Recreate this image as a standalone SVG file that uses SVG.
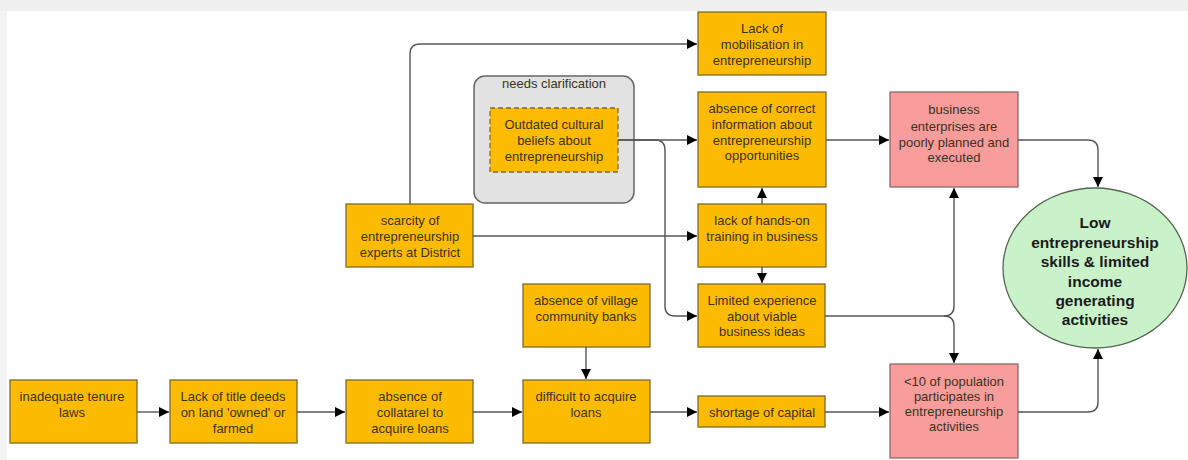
<svg xmlns="http://www.w3.org/2000/svg" width="1188" height="460" viewBox="0 0 1188 460">
<defs>
<marker id="ah" viewBox="0 0 10 10" refX="10" refY="5" markerWidth="10" markerHeight="10" markerUnits="userSpaceOnUse" orient="auto"><path d="M0,0 L10,5 L0,10 z" fill="#000"/></marker>
<style>
.o{fill:#FDBB00;stroke:#7a6a30;stroke-width:1.3}
.p{fill:#F99C9C;stroke:#8a6a6a;stroke-width:1.3}
text{font-family:"Liberation Sans",Arial,sans-serif;font-size:13px;fill:#3a3320;text-anchor:middle}
.b{font-weight:bold;font-size:15.5px;fill:#1a1a1a}
.c{fill:none;stroke:#555;stroke-width:1.4;marker-end:url(#ah)}
</style>
</defs>
<rect width="1188" height="460" fill="#fff"/>
<rect width="1188" height="11" fill="#f0f0f0"/>
<rect y="11" width="7" height="449" fill="#f3f3f3"/>

<g id="group-clarify">
<rect x="474" y="76" width="160" height="127" rx="11" fill="#e2e2e2" stroke="#666" stroke-width="1.5"/>
<text x="554" y="88">needs clarification</text>
</g>
<g id="n-outdated">
<rect x="490" y="108" width="128" height="64" fill="#FDBB00" stroke="#7a6a30" stroke-width="1.3" stroke-dasharray="5,3"/>
<text x="554" y="129">Outdated cultural</text>
<text x="554" y="145">beliefs about</text>
<text x="554" y="161">entrepreneurship</text>
</g>
<g id="n-mobilisation">
<rect class="o" x="698" y="12" width="128" height="63"/>
<text x="762" y="33">Lack of</text>
<text x="762" y="49">mobilisation in</text>
<text x="762" y="65">entrepreneurship</text>
</g>
<g id="n-info">
<rect class="o" x="698" y="92" width="128" height="95"/>
<text x="762" y="113">absence of correct</text>
<text x="762" y="129">information about</text>
<text x="762" y="145">entrepreneurship</text>
<text x="762" y="160">opportunities</text>
</g>
<g id="n-training">
<rect class="o" x="698" y="204" width="128" height="63"/>
<text x="762" y="225">lack of hands-on</text>
<text x="762" y="241">training in business</text>
</g>
<g id="n-experience">
<rect class="o" x="698" y="284" width="127" height="63"/>
<text x="762" y="305">Limited experience</text>
<text x="762" y="321">about viable</text>
<text x="762" y="336">business ideas</text>
</g>
<g id="n-capital">
<rect class="o" x="698" y="396" width="127" height="31"/>
<text x="762" y="417">shortage of capital</text>
</g>
<g id="n-enterprises">
<rect class="p" x="890" y="92" width="128" height="95"/>
<text x="954" y="114">business</text>
<text x="954" y="131">enterprises are</text>
<text x="954" y="147">poorly planned and</text>
<text x="954" y="162">executed</text>
</g>
<g id="n-population">
<rect class="p" x="890" y="364" width="128" height="94"/>
<text x="954" y="386">&lt;10 of population</text>
<text x="954" y="401">participates in</text>
<text x="954" y="416">entrepreneurship</text>
<text x="954" y="431">activities</text>
</g>
<g id="n-outcome">
<ellipse cx="1095" cy="268" rx="92" ry="80" fill="#C9F2C9" stroke="#556655" stroke-width="1.3"/>
<text class="b" x="1095" y="228">Low</text>
<text class="b" x="1095" y="248">entrepreneurship</text>
<text class="b" x="1095" y="267">skills &amp; limited</text>
<text class="b" x="1095" y="287">income</text>
<text class="b" x="1095" y="306">generating</text>
<text class="b" x="1095" y="325">activities</text>
</g>
<g id="n-scarcity">
<rect class="o" x="346" y="204" width="127" height="63"/>
<text x="410" y="225">scarcity of</text>
<text x="410" y="241">entrepreneurship</text>
<text x="410" y="257">experts at District</text>
</g>
<g id="n-tenure">
<rect class="o" x="10" y="380" width="127" height="63"/>
<text x="72" y="401">inadequate tenure</text>
<text x="72" y="417">laws</text>
</g>
<g id="n-title">
<rect class="o" x="170" y="380" width="127" height="63"/>
<text x="233" y="401">Lack of title deeds</text>
<text x="233" y="417">on land 'owned' or</text>
<text x="233" y="433">farmed</text>
</g>
<g id="n-collateral">
<rect class="o" x="346" y="380" width="127" height="63"/>
<text x="410" y="401">absence of</text>
<text x="410" y="417">collatarel to</text>
<text x="410" y="433">acquire loans</text>
</g>
<g id="n-loans">
<rect class="o" x="523" y="380" width="127" height="63"/>
<text x="586" y="401">difficult to acquire</text>
<text x="586" y="417">loans</text>
</g>
<g id="n-banks">
<rect class="o" x="523" y="284" width="127" height="63"/>
<text x="586" y="305">absence of village</text>
<text x="586" y="321">community banks</text>
</g>

<g id="connectors">
<path class="c" d="M410,204 V54 Q410,44 420,44 H697"/>
<path class="c" d="M473,236 H697"/>
<path class="c" d="M618,140 H697"/>
<path class="c" d="M618,140 H655 Q665,140 665,150 V306 Q665,316 675,316 H697"/>
<path class="c" d="M762,204 V188"/>
<path class="c" d="M762,267 V283"/>
<path class="c" d="M826,140 H889"/>
<path class="c" d="M1018,140 H1088 Q1098,140 1098,150 V187"/>
<path class="c" d="M825,316 H944 Q954,316 954,306 V188"/>
<path class="c" d="M944,316 Q954,316 954,326 V363"/>
<path class="c" d="M1018,412 H1088 Q1098,412 1098,402 V349"/>
<path class="c" d="M137,412 H169"/>
<path class="c" d="M297,412 H345"/>
<path class="c" d="M473,412 H522"/>
<path class="c" d="M586,347 V379"/>
<path class="c" d="M650,412 H697"/>
<path class="c" d="M825,412 H889"/>
</g>
</svg>
